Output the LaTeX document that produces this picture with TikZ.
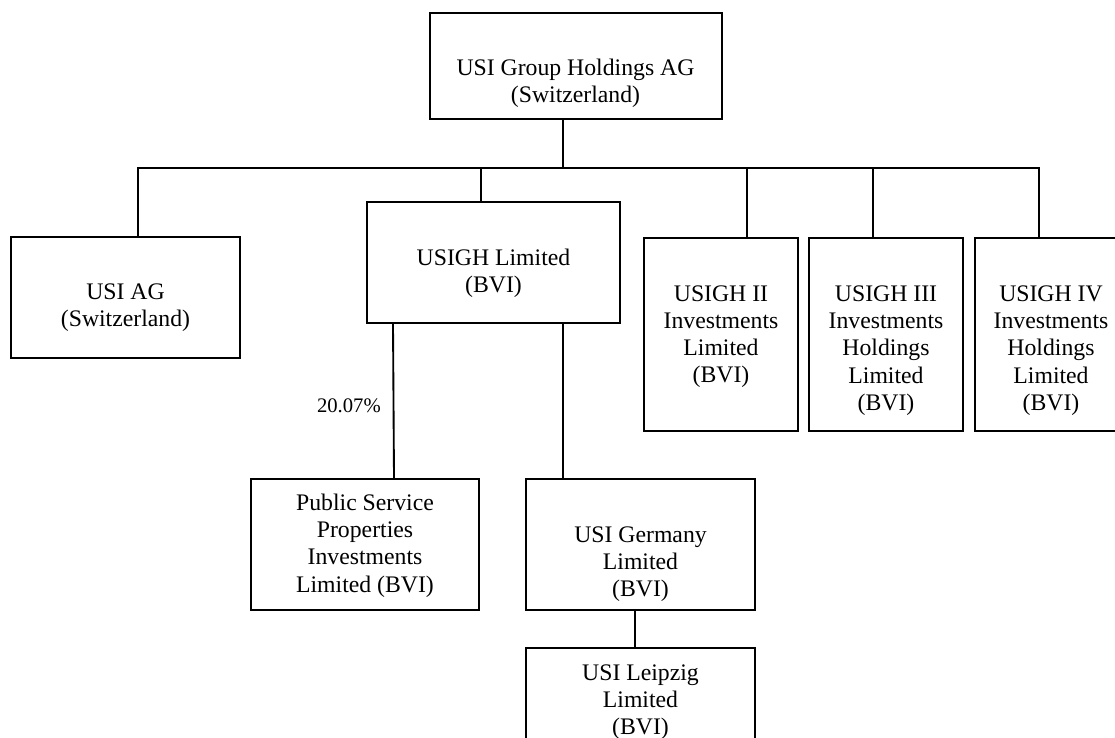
\documentclass[tikz,border=0pt]{standalone}
\usepackage{fontspec}
\setmainfont{Liberation Serif}
\newcommand{\mystr}{\strut}
\begin{document}
\begin{tikzpicture}[x=0.75pt,y=-0.75pt,
  box/.style={draw, line width=1.4pt, inner sep=0pt, rectangle},
  txt/.style={align=center, inner sep=0pt, anchor=north, font=\fontsize{17.8}{20.5}\selectfont},
  pct/.style={inner sep=0pt, anchor=base east, font=\fontsize{15.5}{18}\selectfont},
  link/.style={line width=1.4pt}]
\path[use as bounding box, clip] (0,0) rectangle (1115,738);
% boxes
\node[box, minimum width=219pt, minimum height=79.5pt] (top) at (576,66) {};
\node[box, minimum width=171.75pt, minimum height=90.75pt] (usiag) at (125.5,297.5) {};
\node[box, minimum width=189.75pt, minimum height=90.75pt] (usigh) at (493.5,262.5) {};
\node[box, minimum width=115.5pt, minimum height=144.75pt] (usigh2) at (721,334.5) {};
\node[box, minimum width=115.5pt, minimum height=144.75pt] (usigh3) at (886,334.5) {};
\node[box, minimum width=114pt, minimum height=144.75pt] (usigh4) at (1051,334.5) {};
\node[box, minimum width=171pt, minimum height=98.25pt] (psp) at (365,544.5) {};
\node[box, minimum width=171.75pt, minimum height=98.25pt] (germany) at (640.5,544.5) {};
\node[box, minimum width=171.75pt, minimum height=98.25pt] (leipzig) at (640.5,713.5) {};
% texts
\node[txt] (top-t) at (575.5,55.9) {\mystr USI Group Holdings AG\\\mystr(Switzerland)};
\node[txt] (usiag-t) at (125.5,279.9) {\mystr USI AG\\\mystr(Switzerland)};
\node[txt] (usigh-t) at (493.5,245.9) {\mystr USIGH Limited\\\mystr(BVI)};
\node[txt] (usigh2-t) at (721,281.6) {\mystr USIGH II\\\mystr Investments\\\mystr Limited\\\mystr(BVI)};
\node[txt] (usigh3-t) at (886,281.6) {\mystr USIGH III\\\mystr Investments\\\mystr Holdings\\\mystr Limited\\\mystr(BVI)};
\node[txt] (usigh4-t) at (1051,281.6) {\mystr USIGH IV\\\mystr Investments\\\mystr Holdings\\\mystr Limited\\\mystr(BVI)};
\node[txt] (psp-t) at (365,490.9) {\mystr Public Service\\\mystr Properties\\\mystr Investments\\\mystr Limited (BVI)};
\node[txt] (germany-t) at (640.5,522.9) {\mystr USI Germany\\\mystr Limited\\\mystr(BVI)};
\node[txt] (leipzig-t) at (640.5,660.9) {\mystr USI Leipzig\\\mystr Limited\\\mystr(BVI)};
% junction coordinates
\coordinate (busL) at (138,168);
\coordinate (tj) at (563,168);
\coordinate (j1) at (481,168);
\coordinate (j2) at (747,168);
\coordinate (j3) at (873,168);
\coordinate (busR) at (1039,168);
\coordinate (pa) at (393,0);
\coordinate (pb) at (394,0);
\coordinate (gx) at (635,0);
% connectors
\draw[link] (top.south -| tj) -- (tj);
\draw[link] (busL |- usiag.north) -- (busL) -- (busR) -- (busR |- usigh4.north);
\draw[link] (j1) -- (j1 |- usigh.north);
\draw[link] (j2) -- (j2 |- usigh2.north);
\draw[link] (j3) -- (j3 |- usigh3.north);
\draw[link] (usigh.south -| pa) -- (psp.north -| pb);
\draw[link] (usigh.south -| tj) -- (germany.north -| tj);
\draw[link] (germany.south -| gx) -- (leipzig.north -| gx);
\node[pct] (pctlabel) at (381,412.7) {20.07\%};
\end{tikzpicture}
\end{document}
